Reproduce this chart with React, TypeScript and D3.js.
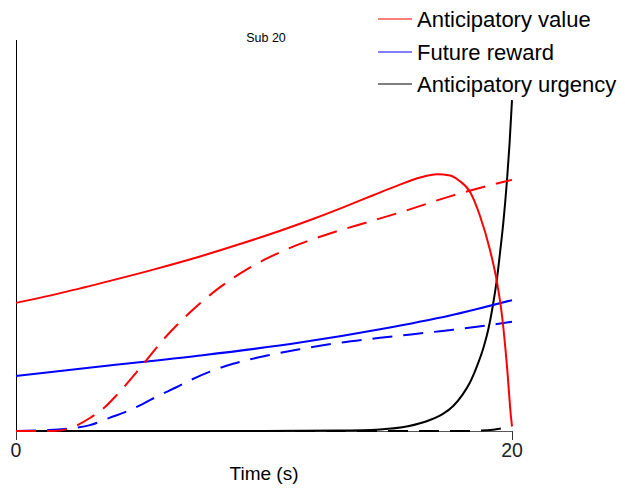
import React, { useEffect, useRef } from "react";
import * as d3 from "d3";

// sampled from the figure: time (s) and value (arbitrary units, 0..1)
const valueT = [0, 2, 3.79, 5.5, 7.42, 9, 10.77, 12, 13.19, 14.4, 15.48, 16.3, 16.98, 17.5, 17.85, 18.31, 18.71, 19.11, 19.4, 19.6, 19.8, 19.96, 20];
const valueY = [0.326, 0.354, 0.382, 0.41, 0.444, 0.475, 0.512, 0.54, 0.569, 0.6, 0.627, 0.645, 0.653, 0.65, 0.638, 0.608, 0.547, 0.461, 0.377, 0.292, 0.163, 0.035, 0.012];

const valueDashT = [0, 1.49, 2.3, 2.98, 3.59, 4.07, 5.0, 5.93, 7.02, 8.23, 9.31, 10.12, 11.45, 12.78, 14.15, 15.48, 17.5, 19.8, 20];
const valueDashY = [0, 0, 0.01, 0.033, 0.061, 0.092, 0.16, 0.232, 0.302, 0.366, 0.411, 0.439, 0.476, 0.505, 0.531, 0.556, 0.597, 0.636, 0.639];

const rewardT = [0, 3.39, 7.42, 11.45, 14.68, 17.5, 20];
const rewardY = [0.14, 0.164, 0.192, 0.225, 0.259, 0.294, 0.333];

const rewardDashT = [0, 1.49, 2.38, 2.98, 3.79, 4.4, 5.12, 5.69, 6.49, 7.02, 7.82, 8.75, 10.12, 11.45, 12.78, 14.68, 17.1, 19.4, 20];
const rewardDashY = [0, 0.003, 0.008, 0.015, 0.034, 0.048, 0.069, 0.088, 0.112, 0.129, 0.151, 0.171, 0.192, 0.208, 0.222, 0.237, 0.254, 0.272, 0.278];

const urgencyT = [0, 10, 13, 14.68, 15.8, 16.69, 17.2, 17.62, 18.0, 18.31, 18.6, 18.83, 19.05, 19.23, 19.4, 19.52, 19.65, 19.8, 19.9, 20];
const urgencyY = [0, 0, 0.001, 0.004, 0.012, 0.028, 0.043, 0.063, 0.092, 0.124, 0.167, 0.208, 0.26, 0.32, 0.39, 0.455, 0.53, 0.64, 0.73, 0.842];

const urgencyDashT = [0, 10, 18, 19, 19.6, 20];
const urgencyDashY = [0, 0, 0, 0.002, 0.007, 0.012];

const legendLabels = ["Anticipatory value", "Future reward", "Anticipatory urgency"];
const legendColors = ["#ff0000", "#0000ff", "#000000"];
const xTicks = [0, 20];

const App = () => {
  const ref = useRef<SVGSVGElement>(null);

  useEffect(() => {
    const svg = d3.select(ref.current);
    svg.selectAll("*").remove();
    const font = "'Liberation Sans', Arial, Helvetica, sans-serif";

    const x = d3.scaleLinear().domain([0, 20]).range([16, 512]);
    const y = d3.scaleLinear().domain([0, 1]).range([431, 38]);

    // axes
    svg.append("line")
      .attr("x1", 16.5).attr("x2", 16.5)
      .attr("y1", 40).attr("y2", 431)
      .attr("stroke", "#000").attr("stroke-width", 1);
    svg.append("line")
      .attr("x1", 16).attr("x2", 512)
      .attr("y1", 431.5).attr("y2", 431.5)
      .attr("stroke", "#555").attr("stroke-width", 1);

    xTicks.forEach(t => {
      svg.append("line")
        .attr("x1", Math.round(x(t)) + 0.5).attr("x2", Math.round(x(t)) + 0.5)
        .attr("y1", 431).attr("y2", 440)
        .attr("stroke", "#333").attr("stroke-width", 1);
      svg.append("text")
        .attr("x", x(t)).attr("y", 457)
        .attr("text-anchor", "middle")
        .attr("font-family", font).attr("font-size", 19.5)
        .attr("fill", "#222")
        .text(t);
    });

    svg.append("text")
      .attr("x", 264).attr("y", 480)
      .attr("text-anchor", "middle")
      .attr("font-family", font).attr("font-size", 19)
      .text("Time (s)");

    svg.append("text")
      .attr("x", 266).attr("y", 42)
      .attr("text-anchor", "middle")
      .attr("font-family", font).attr("font-size", 12.5)
      .text("Sub 20");

    const line = d3.line<[number, number]>()
      .x(d => x(d[0]))
      .y(d => y(d[1]))
      .curve(d3.curveMonotoneX);

    const series = [
      { t: urgencyDashT, v: urgencyDashY, color: "#000", dash: "20 11" },
      { t: urgencyT, v: urgencyY, color: "#000", dash: null },
      { t: rewardDashT, v: rewardDashY, color: "#0000ff", dash: "20 11" },
      { t: rewardT, v: rewardY, color: "#0000ff", dash: null },
      { t: valueDashT, v: valueDashY, color: "#ff0000", dash: "20 11" },
      { t: valueT, v: valueY, color: "#ff0000", dash: null },
    ];

    series.forEach(s => {
      const pts = s.t.map((t, i) => [t, s.v[i]] as [number, number]);
      const p = svg.append("path")
        .attr("d", line(pts))
        .attr("fill", "none")
        .attr("stroke", s.color)
        .attr("stroke-width", 2);
      if (s.dash) p.attr("stroke-dasharray", s.dash);
    });

    // legend
    legendLabels.forEach((label, i) => {
      const ly = Math.round(19 + i * 32.5);
      svg.append("line")
        .attr("x1", 378).attr("x2", 412)
        .attr("y1", ly).attr("y2", ly)
        .attr("stroke", legendColors[i]).attr("stroke-width", 1.2);
      svg.append("text")
        .attr("x", 417).attr("y", ly + 7.5)
        .attr("font-family", font).attr("font-size", 22)
        .text(label);
    });
  }, []);

  return (
    <svg ref={ref} width={625} height={491}
      style={{ position: "absolute", left: 0, top: 0, background: "#fff" }} />
  );
};

export default App;
